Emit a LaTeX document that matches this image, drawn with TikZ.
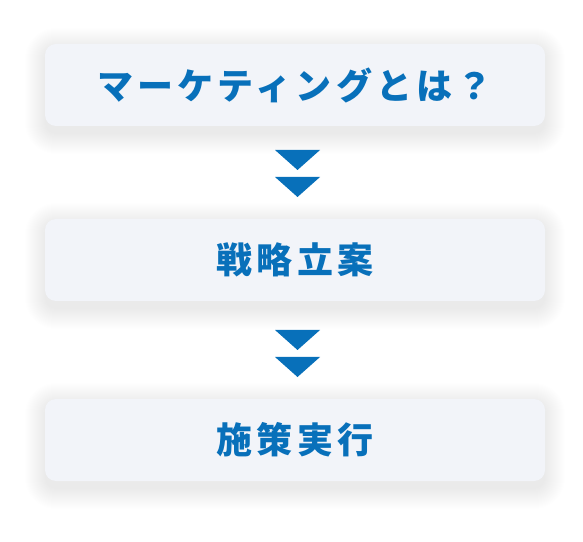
\documentclass[tikz,border=0pt]{standalone}
\usepackage{fontspec}
\usetikzlibrary{calc}
\newfontfamily\jp{Noto Sans CJK JP}[LetterSpace=12]
\definecolor{boxfill}{HTML}{F2F4F9}
\definecolor{mblue}{HTML}{0870BA}
\definecolor{shad}{HTML}{50608A}
\begin{document}
\begin{tikzpicture}[x=1pt,y=1pt,
  card/.style={fill=boxfill, rounded corners=11pt, minimum width=500pt, minimum height=82pt, inner sep=0pt,
    font=\jp\bfseries\fontsize{36}{40}\selectfont, text=mblue},
  tri/.style={fill=mblue, draw=none}]
\useasboundingbox (0,0) rectangle (583,541);
\fill[white] (0,0) rectangle (583,541);
% shadows
\foreach \cy in {456,281,101}{
  \foreach \i in {0,...,20}{
    \fill[shad, opacity=0.0035, rounded corners={11pt+\i pt}] (45-\i*1,\cy-8-41-\i*1) rectangle (545+\i*1,\cy-4+41+\i*1);
  }
}
\node[card] (b1) at (295,456) {マーケティングとは？};
\node[card] (b2) at (295,281) {戦略立案};
\node[card] (b3) at (295,101) {施策実行};
% arrows
\coordinate (a1) at (297.5,391);
\coordinate (a2) at (297.5,364);
\coordinate (a3) at (297.5,211);
\coordinate (a4) at (297.5,184);
\foreach \a in {a1,a2,a3,a4}{
  \fill[tri] ($(\a)+(-22.5,0)$) -- ($(\a)+(22.5,0)$) -- ($(\a)+(0,-20)$) -- cycle;
}
\end{tikzpicture}
\end{document}
